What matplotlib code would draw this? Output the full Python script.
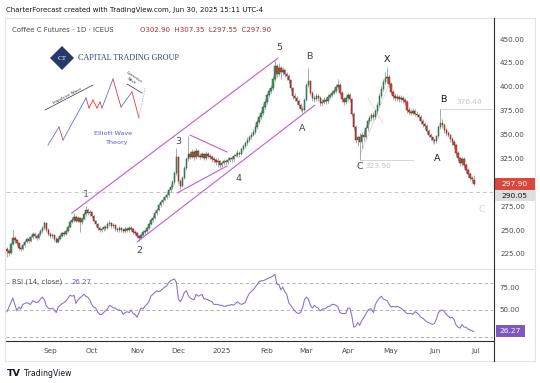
import matplotlib
matplotlib.use("Agg")
import matplotlib.pyplot as plt
import numpy as np
import pandas as pd
from matplotlib.patches import Rectangle, Polygon
from matplotlib.lines import Line2D

plt.rcParams['font.family'] = ['DejaVu Sans']

# ---------------- data ----------------
dates = pd.bdate_range("2024-08-01", "2025-06-30")

opens = [
    230, 228, 226, 235, 242, 240, 236, 231, 230, 234,
    238, 241, 239, 243, 246, 244, 242, 246, 249, 252,
    257, 250, 246, 244, 245, 241, 238, 241, 244, 247,
    246, 249, 253, 259, 261, 264, 260, 263, 258, 262,
    267, 271, 268, 269, 265, 260, 256, 252, 250, 251,
    253, 252, 256, 257, 254, 255, 251, 250, 252, 250,
    249, 251, 250, 252, 251, 248, 247, 244, 242, 245,
    248, 249, 252, 256, 261, 263, 268, 271, 276, 279,
    282, 285, 287, 292, 295, 300, 310, 326, 301, 296,
    305, 315, 324, 330, 327, 332, 326, 333, 328, 327,
    330, 325, 330, 328, 327, 324, 323, 321, 322, 318,
    320, 322, 321, 323, 325, 324, 328, 329, 331, 330,
    335, 338, 341, 344, 347, 350, 353, 358, 363, 368,
    373, 379, 384, 391, 396, 399, 408, 422, 413, 420,
    415, 418, 413, 411, 407, 399, 390, 388, 385, 381,
    377, 376, 386, 402, 406, 394, 388, 387, 390, 388,
    383, 384, 386, 385, 389, 391, 394, 396, 400, 402,
    394, 387, 384, 388, 391, 387, 372, 358, 344, 347,
    342, 350, 347, 357, 364, 367, 370, 368, 375, 381,
    390, 398, 405, 409, 410, 403, 395, 390, 388, 389,
    387, 388, 386, 384, 376, 374, 373, 375, 372, 371,
    368, 364, 361, 359, 354, 350, 347, 344, 343, 348,
    358, 362, 360, 355, 352, 350, 345, 342, 339, 331,
    325, 320, 324, 318, 313, 309, 305, 302.90,
]
highs = [
    232, 230, 238, 250, 244, 241, 237, 233, 236, 240,
    243, 244, 245, 248, 248, 246, 248, 251, 254, 260,
    258, 252, 248, 247, 246, 243, 243, 246, 249, 249,
    251, 255, 261, 264, 268, 266, 265, 264, 264, 269,
    275, 273, 271, 270, 266, 261, 257, 254, 253, 255,
    255, 258, 261, 258, 257, 256, 253, 254, 253, 252,
    253, 253, 254, 254, 252, 250, 248, 245, 247, 250,
    251, 254, 258, 263, 266, 270, 273, 278, 281, 285,
    287, 290, 294, 298, 302, 312, 336, 328, 304, 307,
    317, 326, 349, 333, 335, 334, 336, 335, 331, 332,
    331, 333, 332, 330, 329, 326, 325, 325, 323, 322,
    324, 324, 326, 327, 328, 330, 332, 334, 333, 337,
    340, 343, 347, 350, 353, 356, 361, 366, 371, 376,
    382, 387, 394, 399, 402, 411, 428, 424, 425, 422,
    421, 419, 416, 413, 408, 400, 393, 390, 387, 383,
    380, 388, 404, 420, 407, 396, 391, 393, 392, 390,
    387, 389, 389, 392, 394, 397, 399, 403, 408, 404,
    396, 389, 391, 394, 393, 388, 374, 360, 350, 352,
    353, 355, 360, 366, 370, 373, 374, 377, 384, 393,
    401, 408, 415, 421, 412, 405, 397, 393, 392, 391,
    391, 390, 388, 386, 379, 377, 378, 377, 375, 373,
    370, 366, 363, 361, 356, 352, 349, 346, 350, 360,
    376.4, 366, 362, 357, 354, 351, 347, 344, 340, 333,
    327, 326, 326, 320, 315, 311, 307, 307.35,
]
lows = [
    222, 223, 225, 234, 237, 234, 229, 228, 229, 232,
    236, 237, 238, 241, 242, 240, 241, 244, 247, 251,
    248, 244, 242, 242, 239, 236, 237, 240, 243, 244,
    245, 248, 252, 257, 259, 258, 258, 248, 256, 261,
    265, 266, 265, 263, 258, 254, 250, 248, 248, 249,
    250, 251, 254, 252, 252, 249, 248, 248, 248, 247,
    247, 248, 248, 249, 246, 245, 242, 239, 241, 243,
    246, 247, 251, 255, 259, 262, 266, 270, 274, 277,
    280, 283, 285, 290, 293, 298, 308, 298, 293, 295,
    303, 313, 322, 324, 325, 323, 324, 326, 324, 325,
    323, 323, 325, 324, 321, 320, 318, 316, 315, 316,
    318, 318, 319, 321, 321, 322, 326, 327, 327, 329,
    333, 336, 339, 342, 345, 348, 351, 356, 361, 366,
    371, 377, 382, 389, 393, 397, 406, 410, 411, 408,
    412, 410, 407, 404, 396, 387, 385, 382, 378, 375,
    373, 375, 385, 400, 391, 385, 384, 385, 385, 380,
    380, 382, 382, 383, 387, 389, 392, 394, 398, 391,
    384, 381, 382, 385, 384, 369, 355, 341, 338, 323.9,
    336, 343, 345, 354, 361, 364, 365, 366, 372, 379,
    388, 396, 403, 404, 400, 392, 387, 385, 385, 384,
    384, 383, 381, 373, 371, 370, 370, 369, 368, 365,
    361, 358, 356, 351, 347, 344, 341, 340, 341, 346,
    356, 357, 352, 349, 347, 342, 339, 336, 328, 322,
    317, 317, 315, 310, 306, 302, 300, 297.55,
]
closes = [
    228, 226, 235, 242, 240, 236, 231, 230, 234, 238,
    241, 239, 243, 246, 244, 242, 246, 249, 252, 257,
    250, 246, 244, 245, 241, 238, 241, 244, 247, 246,
    249, 253, 259, 261, 264, 260, 263, 258, 262, 267,
    271, 268, 269, 265, 260, 256, 252, 250, 251, 253,
    252, 256, 257, 254, 255, 251, 250, 252, 250, 249,
    251, 250, 252, 251, 248, 247, 244, 242, 245, 248,
    249, 252, 256, 261, 263, 268, 271, 276, 279, 282,
    285, 287, 292, 295, 300, 310, 326, 301, 296, 305,
    315, 324, 330, 327, 332, 326, 333, 328, 327, 330,
    325, 330, 328, 327, 324, 323, 321, 322, 318, 320,
    322, 321, 323, 325, 324, 328, 329, 331, 330, 335,
    338, 341, 344, 347, 350, 353, 358, 363, 368, 373,
    379, 384, 391, 396, 399, 408, 422, 413, 420, 415,
    418, 413, 411, 407, 399, 390, 388, 385, 381, 377,
    376, 386, 402, 406, 394, 388, 387, 390, 388, 383,
    384, 386, 385, 389, 391, 394, 396, 400, 402, 394,
    387, 384, 388, 391, 387, 372, 358, 344, 347, 342,
    350, 347, 357, 364, 367, 370, 368, 375, 381, 390,
    398, 405, 409, 410, 403, 395, 390, 388, 389, 387,
    388, 386, 384, 376, 374, 373, 375, 372, 371, 368,
    364, 361, 359, 354, 350, 347, 344, 343, 348, 358,
    362, 360, 355, 352, 350, 345, 342, 339, 331, 325,
    320, 324, 318, 313, 309, 305, 303, 297.90,
]
rsi_values = [
    48, 53, 58, 63, 56, 49, 53, 51, 56, 57,
    58, 57, 56, 60, 59, 58, 59, 62, 64, 61,
    54, 52, 51, 52, 50, 47, 53, 55, 57, 58,
    60, 63, 66, 65, 66, 57, 61, 63, 65, 67,
    65, 64, 61, 56, 53, 52, 48, 45, 45, 47,
    49, 51, 55, 54, 52, 52, 50, 50, 49, 45,
    47, 48, 47, 50, 46, 45, 42, 47, 52, 51,
    54, 56, 59, 65, 67, 69, 71, 70, 71, 73,
    75, 76, 80, 82, 83, 84, 80, 62, 59, 63,
    69, 71, 66, 63, 62, 61, 67, 65, 66, 67,
    62, 62, 61, 60, 59, 56, 56, 56, 55, 55,
    54, 54, 55, 55, 56, 55, 57, 59, 57, 56,
    57, 58, 64, 68, 70, 72, 75, 78, 81, 82,
    82, 83, 84, 85, 86, 87, 89, 78, 78, 72,
    75, 70, 67, 58, 55, 52, 49, 47, 46, 47,
    52, 61, 64, 62, 55, 52, 55, 53, 52, 49,
    51, 51, 52, 54, 54, 56, 56, 55, 53, 47,
    46, 46, 46, 52, 52, 44, 31, 32, 36, 33,
    38, 41, 45, 49, 51, 51, 47, 56, 60, 63,
    65, 62, 61, 60, 56, 53, 54, 53, 54, 53,
    52, 50, 48, 46, 46, 46, 45, 48, 47, 45,
    42, 41, 39, 37, 36, 35, 34, 35, 40, 47,
    49, 50, 48, 45, 43, 41, 42, 39, 33, 31,
    30, 34, 31, 31, 29, 28, 27, 26.27,
]

month_labels = ["Sep", "Oct", "Nov", "Dec", "2025", "Feb", "Mar", "Apr", "May", "Jun", "Jul"]
price_ticks = [225, 250, 275, 325, 350, 375, 400, 425, 450]
rsi_ticks = [50, 75]
rsi_levels = [80, 50, 20]
ref_level = 290.05

# drawn trend lines (index, price)
channel_upper = [(32.8, 267.7), (137.6, 430.1)]
channel_lower = [(66.0, 237.6), (156.3, 380.9)]
tri_upper = [(92.9, 349.5), (111.7, 331.7)]
tri_lower = [(86.3, 288.8), (111.7, 317.1)]
faint_lines = [[(179.2, 328.6), (194.4, 405.0)], [(183.2, 388.3), (190.9, 362.1)]]
# horizontal price notes: (start index, price, end index or None, text)
price_notes = [(179, 323.90, 206.0, "323.90"), (220, 376.40, None, "376.40")]

# wave labels: text, candle index, anchor ('H'/'L'), dx px, dy px (up +), colour
wave_labels = [
    ("1", 40, "H", 0, 12, "#5d606b"),
    ("2", 67, "L", 0, -10, "#434651"),
    ("3", 86, "H", 2, 6, "#434651"),
    ("4", 116, "L", 2.5, -21.5, "#434651"),
    ("5", 136, "H", 4, 13, "#434651"),
    ("A", 150, "L", 0, -15.5, "#434651"),
    ("B", 153, "H", 1, 11.5, "#434651"),
    ("C", 179, "L", 0, -7, "#434651"),
    ("X", 193, "H", 0, 7, "#131722"),
    ("B", 220, "H", 2.5, 10, "#131722"),
    ("A", 217, "L", 2.5, -14, "#131722"),
    ("C", 237, "L", 8, -24.5, "#d1d4dc"),
]

# ---------------- figure ----------------
W, H = 540, 383
fig = plt.figure(figsize=(W / 100, H / 100), dpi=100)
fig.patch.set_facecolor("white")


def ptext(x, y, s, **kw):
    return fig.text(x / W, 1 - y / H, s, **kw)


def pline(xs, ys, **kw):
    fig.add_artist(Line2D([x / W for x in xs], [1 - y / H for y in ys],
                          transform=fig.transFigure, **kw))


def prect(x0, y0, x1, y1, **kw):
    fig.add_artist(Rectangle((x0 / W, 1 - y1 / H), (x1 - x0) / W, (y1 - y0) / H,
                             transform=fig.transFigure, **kw))


L_PX, R_PX, TOP_PX, MID_PX, BOT_PX = 6, 493, 18, 269, 341
XLIM = (-0.5, 246.7)

ax = fig.add_axes([L_PX / W, 1 - MID_PX / H, (R_PX - L_PX) / W, (MID_PX - TOP_PX) / H])
rax = fig.add_axes([L_PX / W, 1 - BOT_PX / H, (R_PX - L_PX) / W, (BOT_PX - MID_PX) / H])
for a in (ax, rax):
    a.set_xlim(*XLIM)
    a.set_facecolor("none")
    for s in a.spines.values():
        s.set_visible(False)
    a.yaxis.tick_right()

ax.set_ylim(209.3, 472.0)
rax.set_ylim(15.8, 94.9)

# candles
x = np.arange(len(closes))
o = np.array(opens, float); c = np.array(closes, float)
h = np.array(highs, float); l = np.array(lows, float)
up = c >= o
ax.vlines(x, l, h, color="#8a8a8a", lw=0.5, zorder=2)
ax.bar(x[up], np.maximum(c - o, 0.4)[up], bottom=o[up], width=0.72,
       color="#4f9468", edgecolor="#1f5c38", lw=0.35, zorder=3)
ax.bar(x[~up], (o - c)[~up], bottom=c[~up], width=0.72,
       color="#d44a3e", edgecolor="#7d1d16", lw=0.35, zorder=3)

ax.axhline(ref_level, color="#c5c7cc", lw=0.7, ls=(0, (4, 3)), zorder=1)

purple = "#c45ad8"
for seg in (channel_upper, channel_lower, tri_upper, tri_lower):
    ax.plot([p[0] for p in seg], [p[1] for p in seg], color=purple, lw=0.8, zorder=4,
            solid_capstyle="round")
for seg in faint_lines:
    ax.plot([p[0] for p in seg], [p[1] for p in seg], color="#dadada", lw=0.6, zorder=1)

for i0, lvl, i1, txt in price_notes:
    end = XLIM[1] if i1 is None else i1
    ax.plot([i0, end], [lvl, lvl], color="#d6d6d6", lw=0.7, zorder=1)
    mid = i0 + (end - i0) * (0.55 if i1 is None else 0.35)
    ax.annotate(txt, xy=(mid, lvl), xytext=(0, 5.5 if i1 is None else -5),
                textcoords="offset points", ha="center", va="center",
                fontsize=5.3, color="#c4c6cc")

for txt, idx, side, dx, dy, col in wave_labels:
    yv = highs[idx] if side == "H" else lows[idx]
    ax.annotate(txt, xy=(idx, yv), xytext=(dx * 0.72, dy * 0.72), textcoords="offset points",
                ha="center", va="center", fontsize=6.8, color=col)

ax.set_xticks([])
ax.set_yticks(price_ticks)
ax.set_yticklabels([f"{v:.2f}" for v in price_ticks])
ax.tick_params(axis="y", length=0, pad=5, labelsize=5.1, labelcolor="#4a4a4a")

# RSI pane
for lv in rsi_levels:
    rax.axhline(lv, color="#a3a6ae", lw=0.6, ls=(0, (4, 3)), zorder=1)
rax.plot(x, rsi_values, color="#8a6bd1", lw=0.75, zorder=3)
rax.set_yticks(rsi_ticks)
rax.set_yticklabels([f"{v:.2f}" for v in rsi_ticks])
rax.tick_params(axis="y", length=0, pad=5, labelsize=5.1, labelcolor="#4a4a4a")

month_starts = pd.date_range("2024-09-01", "2025-07-01", freq="MS")
tick_pos = [int(np.searchsorted(dates.values, np.datetime64(m))) for m in month_starts]
rax.set_xticks(tick_pos)
rax.set_xticklabels(month_labels)
rax.tick_params(axis="x", length=0, pad=5, labelsize=5.2, labelcolor="#4a4a4a")
rax.spines["bottom"].set_visible(True)
rax.spines["bottom"].set_color("#2a2e39")
rax.spines["bottom"].set_linewidth(0.8)

# frame lines
prect(5, 17.5, 535, 360.5, fill=False, ec="#e0e3eb", lw=0.8)
pline([6, 535], [MID_PX, MID_PX], color="#e0e3eb", lw=0.8)
pline([493.5, 493.5], [17.5, 360.5], color="#2a2e39", lw=0.8)


def y_px(axis, v):
    return H - axis.transData.transform((0, v))[1]


yc = y_px(ax, closes[-1])
prect(494.5, yc - 6, 535, yc + 6, fc="#d9483b", ec="none", zorder=5)
ptext(514.5, yc, f"{closes[-1]:.2f}", color="white", ha="center", va="center",
      fontsize=5.4, zorder=6)
yg = max(y_px(ax, ref_level), yc + 11.5)
prect(494.5, yg - 5.5, 535, yg + 5.5, fc="#dedede", ec="none", zorder=5)
ptext(514.5, yg, f"{ref_level:.2f}", color="#131722", ha="center", va="center",
      fontsize=5.4, zorder=6)
yr = y_px(rax, rsi_values[-1])
prect(495.5, yr - 6, 525, yr + 6, fc="#7e57c2", ec="none", zorder=5)
ptext(510.2, yr, f"{rsi_values[-1]:.2f}", color="white", ha="center", va="center",
      fontsize=5.4, zorder=6)

# texts
ptext(5.5, 10.3, "CharterForecast created with TradingView.com, Jun 30, 2025 15:11 UTC-4",
      fontsize=5.0, color="#131722", va="center")
ptext(12.5, 30.3, "Coffee C Futures \u00b7 1D \u00b7 ICEUS", fontsize=5.0, color="#4a4a4a",
      va="center")
ptext(139.5, 30.3, f"O{opens[-1]:.2f}  H{highs[-1]:.2f}  L{lows[-1]:.2f}  C{closes[-1]:.2f}",
      fontsize=5.0, color="#a8312c", va="center")
ptext(12.5, 281.5, "RSI (14, close)", fontsize=5.0, color="#555555", va="center")
ptext(71.5, 281.5, f"{rsi_values[-1]:.2f}", fontsize=5.0, color="#7e57c2", va="center")

# TradingView logo
ptext(6.5, 373.6, "TV", fontsize=6.8, color="#131722", weight="bold", va="center")
ptext(23.5, 373.6, "TradingView", fontsize=5.6, color="#131722", va="center")

# Capital Trading Group logo
navy = "#27386a"
fig.add_artist(Polygon([((62) / W, 1 - 46 / H), (74 / W, 1 - 58 / H), (62 / W, 1 - 70 / H),
                        (50 / W, 1 - 58 / H)], closed=True, transform=fig.transFigure,
                       fc=navy, ec="none"))
ptext(62, 58, "CT", fontsize=5.2, color="white", ha="center", va="center",
      family="Liberation Serif")
ptext(78.5, 57.5, "CAPITAL TRADING GROUP", fontsize=5.9, color="#34426e", va="center",
      family="Liberation Serif")

# Elliott wave sketch
ew_pts = [(48, 145), (59, 127), (63, 140), (86, 98), (89, 108), (93, 100), (97, 108),
          (100, 102), (102, 108), (113, 79), (121, 107), (132, 92), (139, 118), (145, 88)]
ew_cols = ["b", "r", "b", "r", "r", "r", "r", "r", "b", "r", "b", "r", "d"]
cmap = {"b": "#5a73f0", "r": "#e23a3a", "d": "#a9b8f5"}
for k, col in enumerate(ew_cols):
    (x0, y0), (x1, y1) = ew_pts[k], ew_pts[k + 1]
    pline([x0, x1], [y0, y1], color=cmap[col], lw=0.6,
          ls=(0, (2, 1.2)) if col == "d" else "-")
pline([45, 93], [110, 85], color="#333333", lw=0.5)
ptext(67, 96, "Impulsive Wave", fontsize=2.9, color="#333333", rotation=27,
      ha="center", va="center")
pline([127, 142], [84, 93], color="#333333", lw=0.5)
ptext(133, 79, "Corrective\nWave", fontsize=2.6, color="#333333", rotation=-33,
      ha="center", va="center", linespacing=0.9)
ptext(113, 133, "Elliott Wave", fontsize=4.6, color="#4a5de8", ha="center", va="center")
ptext(116, 142, "Theory", fontsize=4.6, color="#4a5de8", ha="center", va="center")

fig.savefig("out.png", dpi=100, facecolor="white")
